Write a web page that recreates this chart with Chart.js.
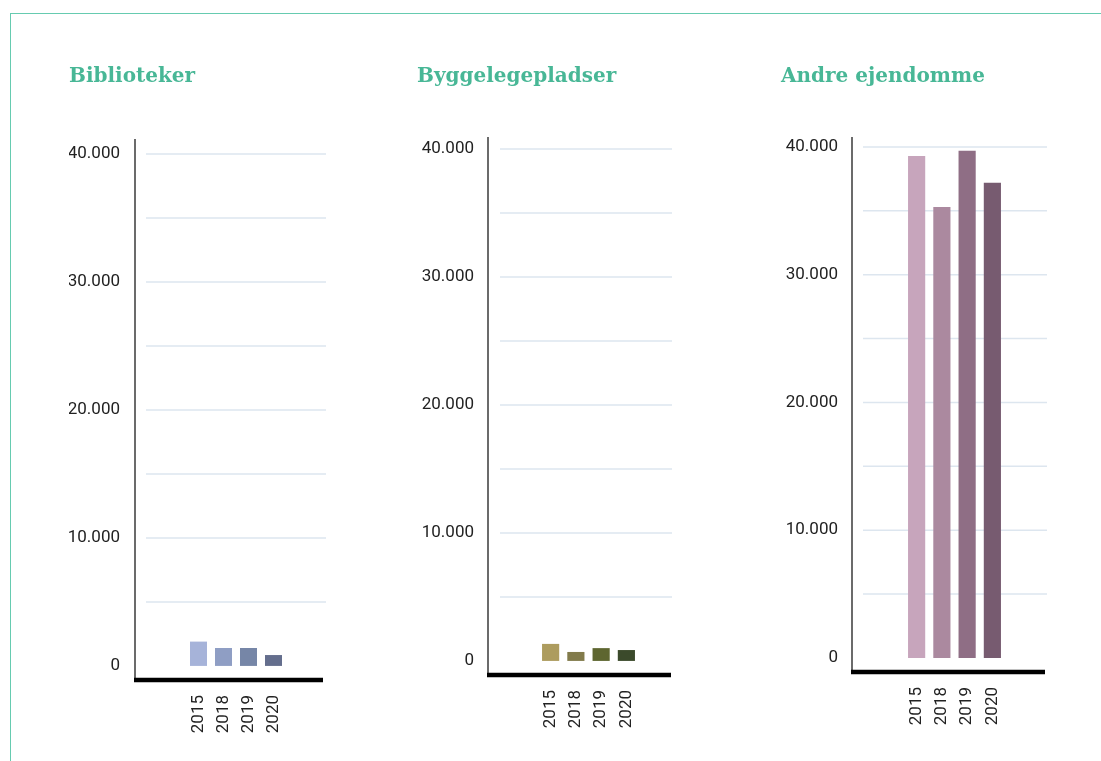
<!DOCTYPE html>
<html>
<head>
<meta charset="utf-8">
<script src="https://cdn.jsdelivr.net/npm/chart.js@4.4.1/dist/chart.umd.min.js"></script>
<style>
  body { margin: 0; background: #fff; width: 1101px; height: 761px; overflow: hidden; position: relative; }
  #frame { position: absolute; left: 10px; top: 13px; width: 1100px; height: 760px;
           border-top: 1px solid #66cbb0; border-left: 1px solid #66cbb0; }
  canvas { position: absolute; top: 0; }
</style>
</head>
<body>
<div id="frame"></div>
<canvas id="c1" width="280" height="761" style="left:60px"></canvas>
<canvas id="c2" width="280" height="761" style="left:408px"></canvas>
<canvas id="c3" width="300" height="761" style="left:772px"></canvas>
<script>
// data
const years = ['2015', '2018', '2019', '2020'];
const bibliotekerValues = [1900, 1400, 1400, 850];
const byggelegepladserValues = [1330, 700, 1000, 850];
const andreEjendommeValues = [39300, 35300, 39700, 37200];
const yTicks = [0, 5000, 10000, 15000, 20000, 25000, 30000, 35000, 40000];

const bibliotekerColors = ['#a6b3d9', '#8f9ec4', '#7686a7', '#646e8d'];
const byggeColors = ['#ad9c5e', '#827b4b', '#5e6630', '#3b4a2b'];
const andreColors = ['#c7a5bc', '#ab899f', '#8f6e85', '#775b70'];

const fmt = v => String(v).replace(/\B(?=(\d{3})+(?!\d))/g, '.');

// gitterlinjer og akser tegnes ud fra y-skalaen
const guides = {
  id: 'guides',
  beforeDatasetsDraw(chart, args, o) {
    const { ctx, chartArea: a, scales: { y } } = chart;
    ctx.save();
    ctx.strokeStyle = '#dde6ef';
    ctx.lineWidth = 1.5;
    yTicks.forEach(v => {
      if (v === 0) return;
      const py = y.getPixelForValue(v);
      ctx.beginPath();
      ctx.moveTo(a.left - o.gridL, py);
      ctx.lineTo(a.right + o.gridR, py);
      ctx.stroke();
    });
    ctx.restore();
  },
  afterDatasetsDraw(chart, args, o) {
    const { ctx, chartArea: a } = chart;
    const ax = a.left - o.axisGap;
    ctx.save();
    ctx.strokeStyle = '#3a3a3a';
    ctx.lineWidth = 1.5;
    ctx.beginPath();
    ctx.moveTo(ax, a.top - o.axisOver);
    ctx.lineTo(ax, a.bottom);
    ctx.stroke();
    ctx.strokeStyle = '#000';
    ctx.lineWidth = 4.5;
    ctx.beginPath();
    ctx.moveTo(ax - 1, a.bottom);
    ctx.lineTo(a.right + o.baseR, a.bottom);
    ctx.stroke();
    ctx.restore();
  }
};

function makeChart(id, title, values, colors, g) {
  new Chart(document.getElementById(id), {
    type: 'bar',
    data: {
      labels: years,
      datasets: [{ data: values, backgroundColor: colors, barPercentage: 0.68, categoryPercentage: 1 }]
    },
    plugins: [guides],
    options: {
      responsive: false,
      animation: false,
      layout: { padding: { left: 9, right: g.padR, top: 0, bottom: 0 } },
      plugins: {
        legend: { display: false },
        tooltip: { enabled: false },
        title: {
          display: true, text: title, align: 'start', color: '#48b796',
          font: { family: 'DejaVu Serif', size: 20, weight: 'bold', lineHeight: 1.2 },
          padding: { top: 65, bottom: g.titleB }
        },
        guides: g
      },
      scales: {
        x: {
          grid: { display: false, drawTicks: false },
          border: { display: false },
          ticks: { minRotation: 90, maxRotation: 90, autoSkip: false, padding: 15, color: '#222',
                   font: { family: 'Roboto', size: 17 } },
          afterFit: s => { s.height = g.xH; }
        },
        y: {
          min: -1100, max: 40000,
          afterBuildTicks: s => { s.ticks = yTicks.map(v => ({ value: v })); },
          grid: { display: false, drawTicks: false },
          border: { display: false },
          ticks: { padding: g.tickPad, color: '#222', font: { family: 'Roboto', size: 17 },
                   callback: v => (v % 10000 === 0 ? fmt(v) : '') },
          afterFit: s => { s.width = g.yW; }
        }
      }
    }
  });
}

makeChart('c1', 'Biblioteker', bibliotekerValues, bibliotekerColors,
  { padR: 54, titleB: 65, xH: 81, yW: 117, tickPad: 66, gridL: 40, gridR: 40, axisGap: 51, axisOver: 15, baseR: 37 });
makeChart('c2', 'Byggelegepladser', byggelegepladserValues, byggeColors,
  { padR: 49, titleB: 60, xH: 86, yW: 121, tickPad: 64, gridL: 38, gridR: 33, axisGap: 50, axisOver: 12, baseR: 32 });
makeChart('c3', 'Andre ejendomme', andreEjendommeValues, andreColors,
  { padR: 67, titleB: 58, xH: 89, yW: 123, tickPad: 66, gridL: 41, gridR: 42, axisGap: 52, axisOver: 10, baseR: 40 });
</script>
</body>
</html>
